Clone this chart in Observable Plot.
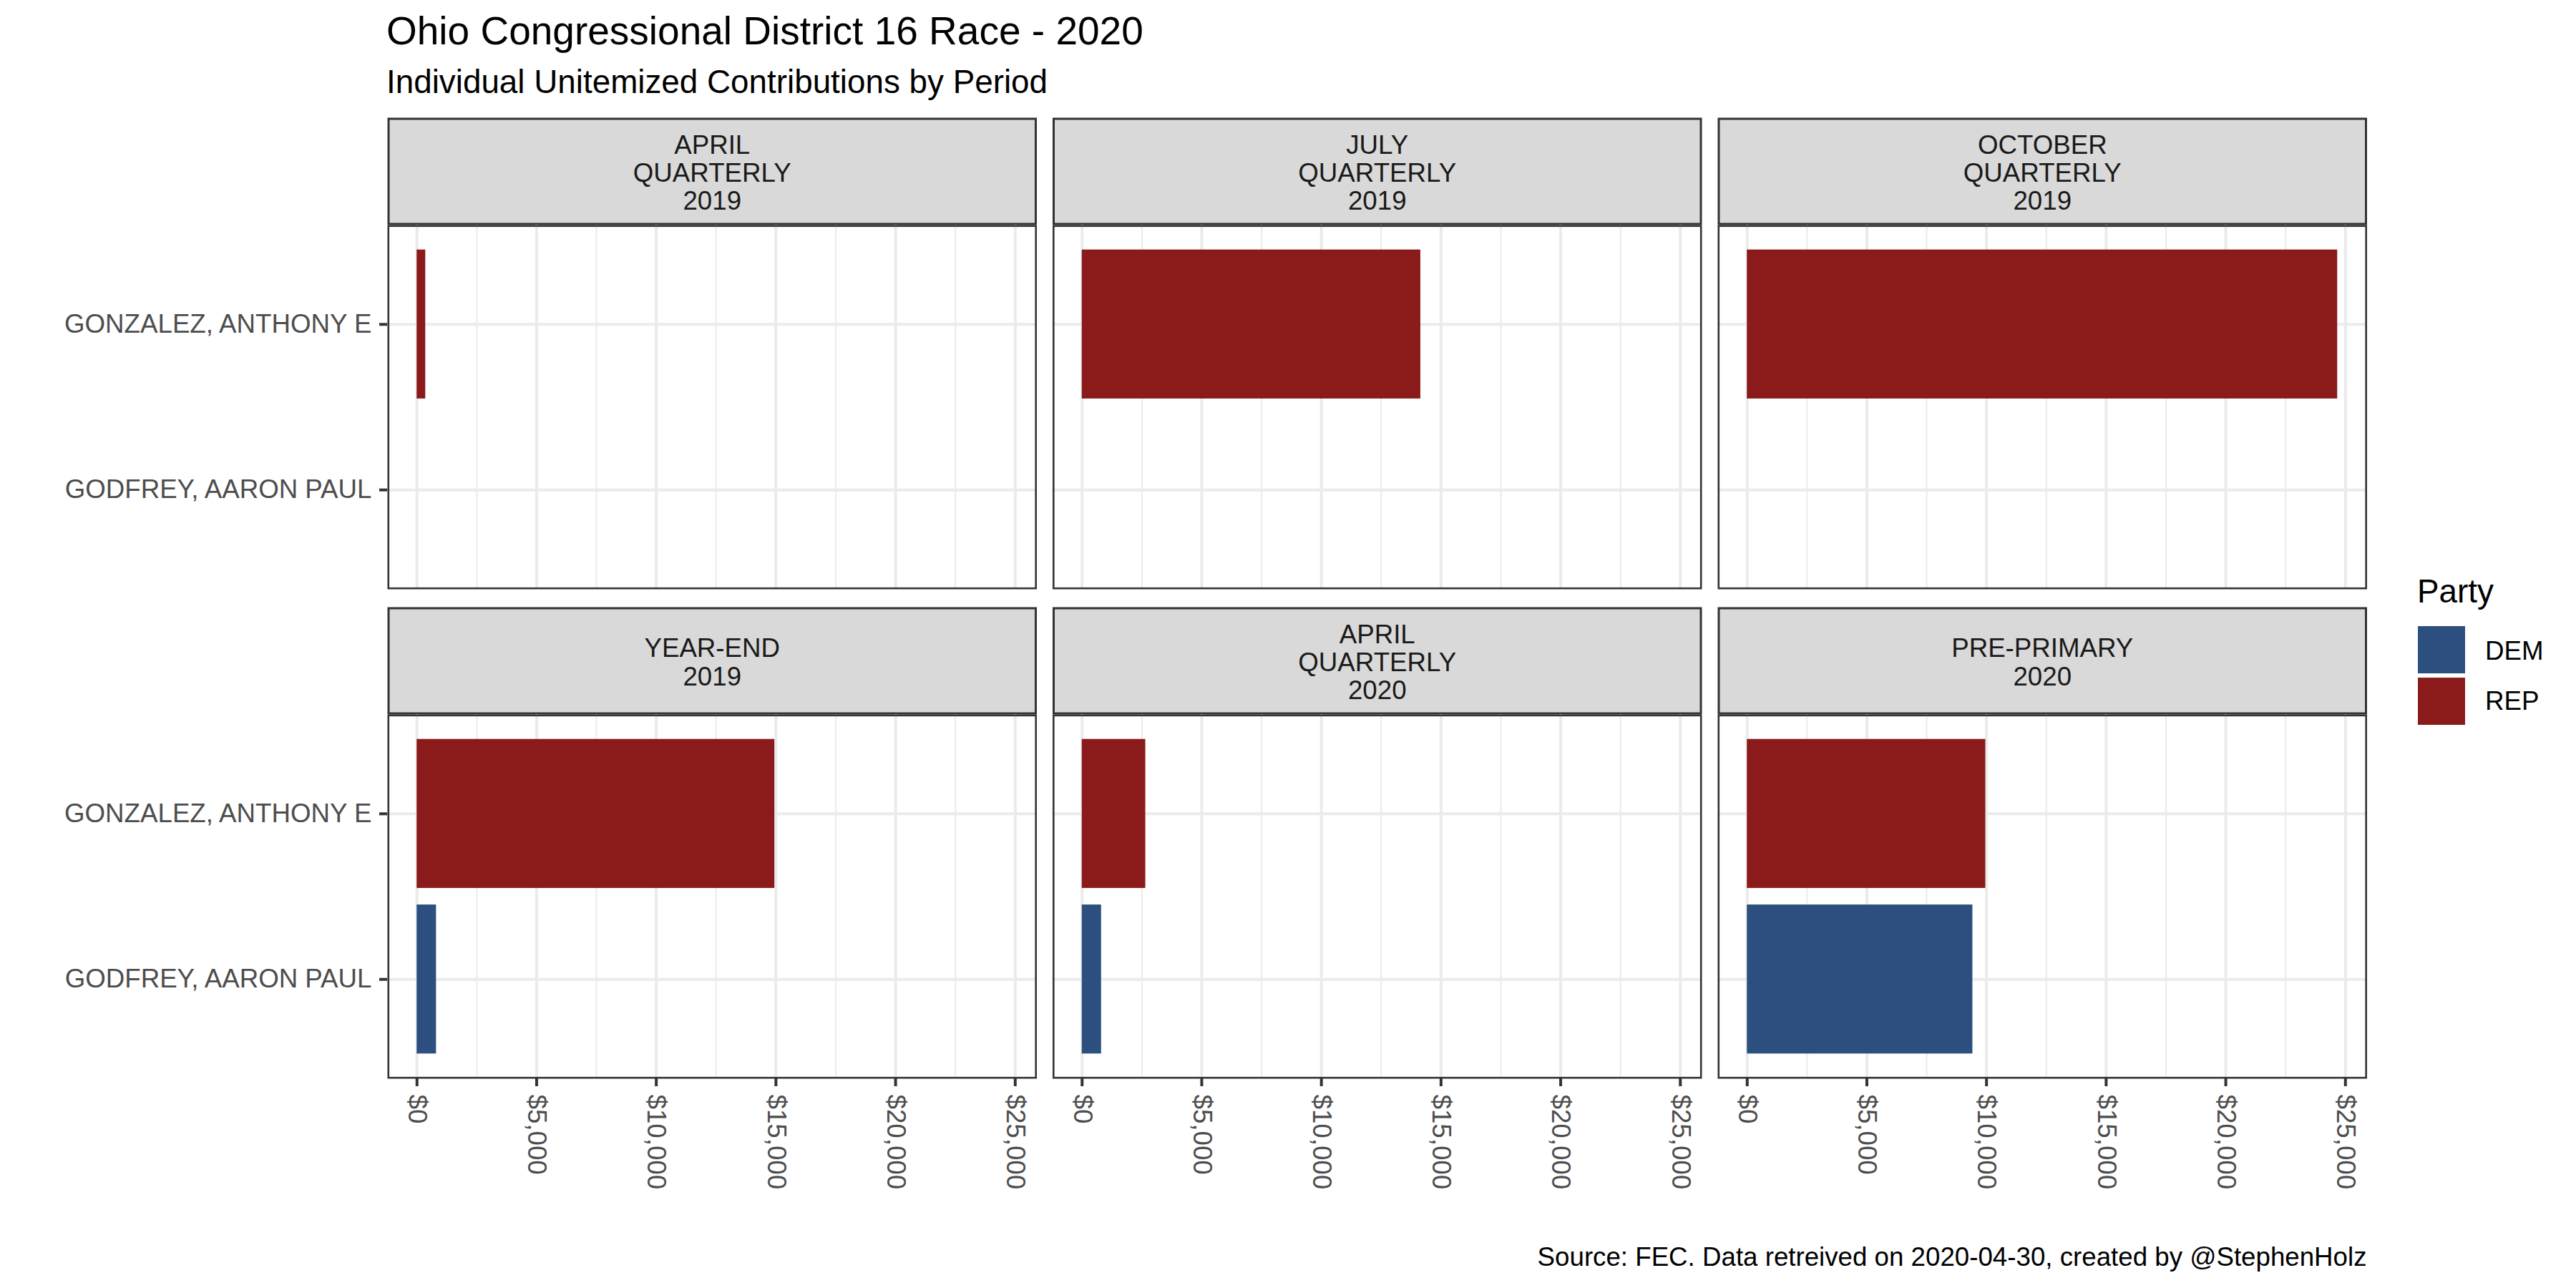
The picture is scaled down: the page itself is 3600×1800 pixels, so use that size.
<!DOCTYPE html>
<html>
<head>
<meta charset="utf-8">
<script src="https://cdn.jsdelivr.net/npm/d3@7"></script>
<script src="https://cdn.jsdelivr.net/npm/@observablehq/plot@0.6"></script>
<style>
html, body { margin: 0; padding: 0; background: #ffffff; }
#page { position: relative; width: 3600px; height: 1800px; overflow: hidden; background: #ffffff;
  font-family: 'Liberation Sans', Arial, sans-serif; }
.t { position: absolute; white-space: nowrap; line-height: 1; }
#chart { position: absolute; left: 0; top: 164px; }
#chart svg g[aria-label^="x-axis"] text, #chart svg g[aria-label^="y-axis"] text { fill: #4D4D4D; }
#chart svg g[aria-label^="x-axis"] line, #chart svg g[aria-label^="y-axis"] line,
#chart svg g[aria-label^="x-axis"] path, #chart svg g[aria-label^="y-axis"] path { stroke: #333333; stroke-width: 4px; stroke-opacity: 1; }
</style>
</head>
<body>
<div id="page"></div>
<script>
// ---------- data ----------
const periods = [
  "APRIL\nQUARTERLY\n2019",
  "JULY\nQUARTERLY\n2019",
  "OCTOBER\nQUARTERLY\n2019",
  "YEAR-END\n2019",
  "APRIL\nQUARTERLY\n2020",
  "PRE-PRIMARY\n2020"
];
const candidates = ["GONZALEZ, ANTHONY E", "GODFREY, AARON PAUL"];
const candidateParty = ["REP", "DEM"];
const gonzalezValues = [360, 14150, 24670, 14950, 2655, 9965];
const godfreyValues = [null, null, null, 810, 808, 9425];
const parties = ["DEM", "REP"];
const partyColors = ["#2C4F80", "#8B1A1A"];
const xTicks = [0, 5000, 10000, 15000, 20000, 25000];
const xMinorTicks = [2500, 7500, 12500, 17500, 22500];
const titleText = "Ohio Congressional District 16 Race - 2020";
const subtitleText = "Individual Unitemized Contributions by Period";
const captionText = "Source: FEC. Data retreived on 2020-04-30, created by @StephenHolz";
const legendTitle = "Party";

// ---------- table ----------
const seriesValues = [gonzalezValues, godfreyValues];
const rows = [];
periods.forEach((p, i) => {
  seriesValues.forEach((vals, c) => {
    if (vals[i] != null) rows.push({
      period: p, col: i % 3, row: Math.floor(i / 3),
      candidate: candidates[c], party: candidateParty[c], value: vals[i]
    });
  });
});

// ---------- layout ----------
const SVG_W = 3600, SVG_H = 1536;
const MT = 150, ML = 541;
const PANEL_W = 907.5, GAP_X = 22;
const MR = SVG_W - ML - 3 * PANEL_W - 2 * GAP_X;
const PANEL_H = 509, GAP_Y = 175;
const MB = SVG_H - MT - 2 * PANEL_H - GAP_Y;
const M = d3.max(rows, d => d.value);
const fmt = d3.format(",");

const chart = Plot.plot({
  width: SVG_W, height: SVG_H,
  marginTop: MT, marginBottom: MB, marginLeft: ML, marginRight: MR,
  style: { fontFamily: "'Liberation Sans', Arial, sans-serif", fontSize: "36.7px", color: "#333333", background: "#ffffff", overflow: "visible" },
  facet: { data: rows, x: "col", y: "row" },
  fx: { domain: [0, 1, 2], paddingInner: GAP_X / (PANEL_W + GAP_X), paddingOuter: 0, round: false, axis: null, label: null },
  fy: { domain: [0, 1], paddingInner: GAP_Y / (PANEL_H + GAP_Y), paddingOuter: 0, round: false, axis: null, label: null },
  x: { domain: [-0.05 * M, 1.05 * M], ticks: xTicks, tickFormat: d => "$" + fmt(d), tickRotate: 90, tickSize: 11, tickPadding: 11, label: null },
  y: { domain: candidates, paddingInner: 0.1, paddingOuter: 0.15, align: 0.5, round: false, tickSize: 11, tickPadding: 11, label: null },
  color: { domain: parties, range: partyColors },
  marks: [
    Plot.frame({ fill: "#D9D9D9", stroke: "#333333", strokeWidth: 3, insetTop: -MT + 1.5, insetBottom: PANEL_H + 1.5, insetLeft: 1.5, insetRight: 1.5 }),
    Plot.ruleX(xMinorTicks, { stroke: "#EBEBEB", strokeWidth: 2 }),
    Plot.ruleX(xTicks, { stroke: "#EBEBEB", strokeWidth: 4 }),
    Plot.ruleY(candidates, { stroke: "#EBEBEB", strokeWidth: 4 }),
    Plot.barX(rows, { x1: 0, x2: "value", y: "candidate", fill: "party" }),
    Plot.text(rows, { filter: d => d.candidate === candidates[0], frameAnchor: "top", text: "period", dy: -73, lineAnchor: "middle", lineHeight: 1.063, fill: "#1A1A1A", fontSize: 36.7 }),
    Plot.frame({ stroke: "#333333", strokeWidth: 2.6, inset: 1.3 })
  ]
});

// ---------- page ----------
const page = document.getElementById("page");
function addText(txt, left, baseline, size, color, extra) {
  const d = document.createElement("div");
  d.className = "t";
  d.textContent = txt;
  d.style.fontSize = size + "px";
  d.style.color = color;
  d.style.top = (baseline - 0.8465 * size) + "px";
  if (left != null) d.style.left = left + "px";
  if (extra) Object.assign(d.style, extra);
  page.appendChild(d);
  return d;
}
addText(titleText, 540, 63, 55, "#000000");
addText(subtitleText, 540, 131, 45.8, "#000000");

const holder = document.createElement("div");
holder.id = "chart";
holder.appendChild(chart);
page.appendChild(holder);

addText(captionText, null, 1770, 36.7, "#000000", { right: (SVG_W - ML - 3 * PANEL_W - 2 * GAP_X) + "px", textAlign: "right" });

// legend
addText(legendTitle, 3378, 843, 45.8, "#000000");
parties.forEach((p, i) => {
  const sw = document.createElement("div");
  sw.style.position = "absolute";
  sw.style.left = "3379px";
  sw.style.top = (875 + i * 72) + "px";
  sw.style.width = "66px";
  sw.style.height = "66px";
  sw.style.background = partyColors[i];
  page.appendChild(sw);
  addText(p, 3473, 923 + i * 70, 36.7, "#000000");
});
</script>
</body>
</html>
